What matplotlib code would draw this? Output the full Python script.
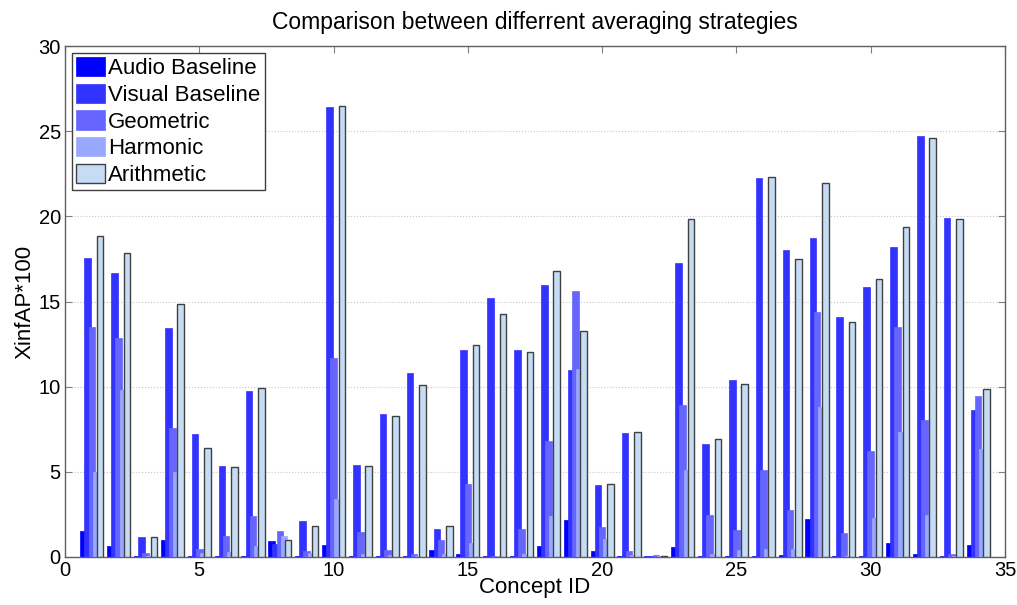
import numpy as np
import matplotlib.pyplot as plt

plt.rcParams['font.family'] = ['Liberation Sans', 'DejaVu Sans']

# values (XinfAP*100 per concept)
concept_ids = np.arange(1, 35)
audio = [1.5, 0.67, 0.03, 1.02, 0.08, 0.05, 0.05, 0.92, 0.05, 0.73,
         0.05, 0.05, 0.05, 0.39, 0.18, 0.05, 0.05, 0.63, 2.2, 0.37,
         0.05, 0.05, 0.57, 0.05, 0.05, 0.05, 0.14, 2.25, 0.05, 0.05,
         0.82, 0.18, 0.05, 0.69]
visual = [17.55, 16.7, 1.2, 13.47, 7.25, 5.33, 9.75, 0.75, 2.14, 26.41,
          5.43, 8.37, 10.82, 1.67, 12.14, 15.2, 12.14, 15.96, 10.98, 4.2,
          7.29, 0.08, 17.24, 6.61, 10.37, 22.25, 18.02, 18.7, 14.1, 15.86,
          18.18, 24.69, 19.88, 8.61]
geometric = [13.5, 12.84, 0.24, 7.59, 0.47, 1.22, 2.39, 1.51, 0.33, 11.7,
             1.45, 0.43, 0.18, 0.98, 4.31, 0.08, 1.67, 6.8, 15.63, 1.76,
             0.33, 0.1, 8.9, 2.45, 1.57, 5.1, 2.78, 14.39, 1.41, 6.22,
             13.53, 8.04, 0.2, 9.43]
harmonic = [5.0, 9.8, 0.05, 5.0, 0.25, 0.3, 0.67, 1.22, 0.24, 3.43,
            0.2, 0.1, 0.05, 0.2, 0.82, 0.03, 0.2, 2.39, 11.02, 1.04,
            0.1, 0.05, 5.1, 0.2, 0.43, 0.47, 0.47, 8.82, 0.05, 2.29,
            7.35, 2.49, 0.05, 6.35]
arithmetic = [18.86, 17.86, 1.18, 14.88, 6.41, 5.31, 9.94, 1.02, 1.8, 26.5,
              5.37, 8.27, 10.08, 1.8, 12.45, 14.29, 12.06, 16.8, 13.25, 4.27,
              7.33, 0.08, 19.82, 6.92, 10.14, 22.33, 17.47, 21.94, 13.8, 16.35,
              19.39, 24.59, 19.84, 9.84]

series = [audio, visual, geometric, harmonic, arithmetic]
labels = ['Audio Baseline', 'Visual Baseline', 'Geometric', 'Harmonic', 'Arithmetic']
colors = ['#0000ff', '#3333ff', '#6666ff', '#99a8ff', '#c6dcf5']
edges = ['#0000ff', '#3333ff', '#6666ff', '#99a8ff', '#404040']

fig = plt.figure(figsize=(10.17, 6.05), dpi=100)
ax = fig.add_axes([65 / 1017, 1 - 557 / 605, 940 / 1017, 511 / 605])

step = 0.154
width = 0.245
for i, (vals, lab) in enumerate(zip(series, labels)):
    ax.bar(concept_ids + (i - 2) * step, vals, width=width, color=colors[i],
           edgecolor=edges[i], linewidth=1.0 if i == 4 else 0.5,
           label=lab, zorder=2 + i)

ax.set_xlim(0, 35)
ax.set_ylim(0, 30)
ax.set_xticks(range(0, 36, 5))
ax.set_yticks(range(0, 31, 5))
ax.yaxis.grid(True, linestyle=':', color='#c8c8c8', linewidth=0.8, zorder=0)
ax.set_axisbelow(True)
ax.tick_params(direction='in', top=True, right=True, labelsize=14.5,
               length=5, color='#808080', pad=3)
for s in ax.spines.values():
    s.set_color('#606060')
    s.set_linewidth(1.0)

ax.set_xlabel('Concept ID', fontsize=16, labelpad=-2)
ax.set_ylabel('XinfAP*100', fontsize=16, labelpad=2)
ax.set_title('Comparison between differrent averaging strategies', fontsize=16.5, pad=12)

leg = ax.legend(loc='upper left', fontsize=16, handlelength=1.3, handleheight=0.95,
                handletextpad=0.15, labelspacing=0.2, borderpad=0.2,
                borderaxespad=0.3, fancybox=False, framealpha=1)
leg.get_frame().set_edgecolor('#404040')
leg.get_frame().set_linewidth(1.0)

fig.savefig('out.png', dpi=100)
